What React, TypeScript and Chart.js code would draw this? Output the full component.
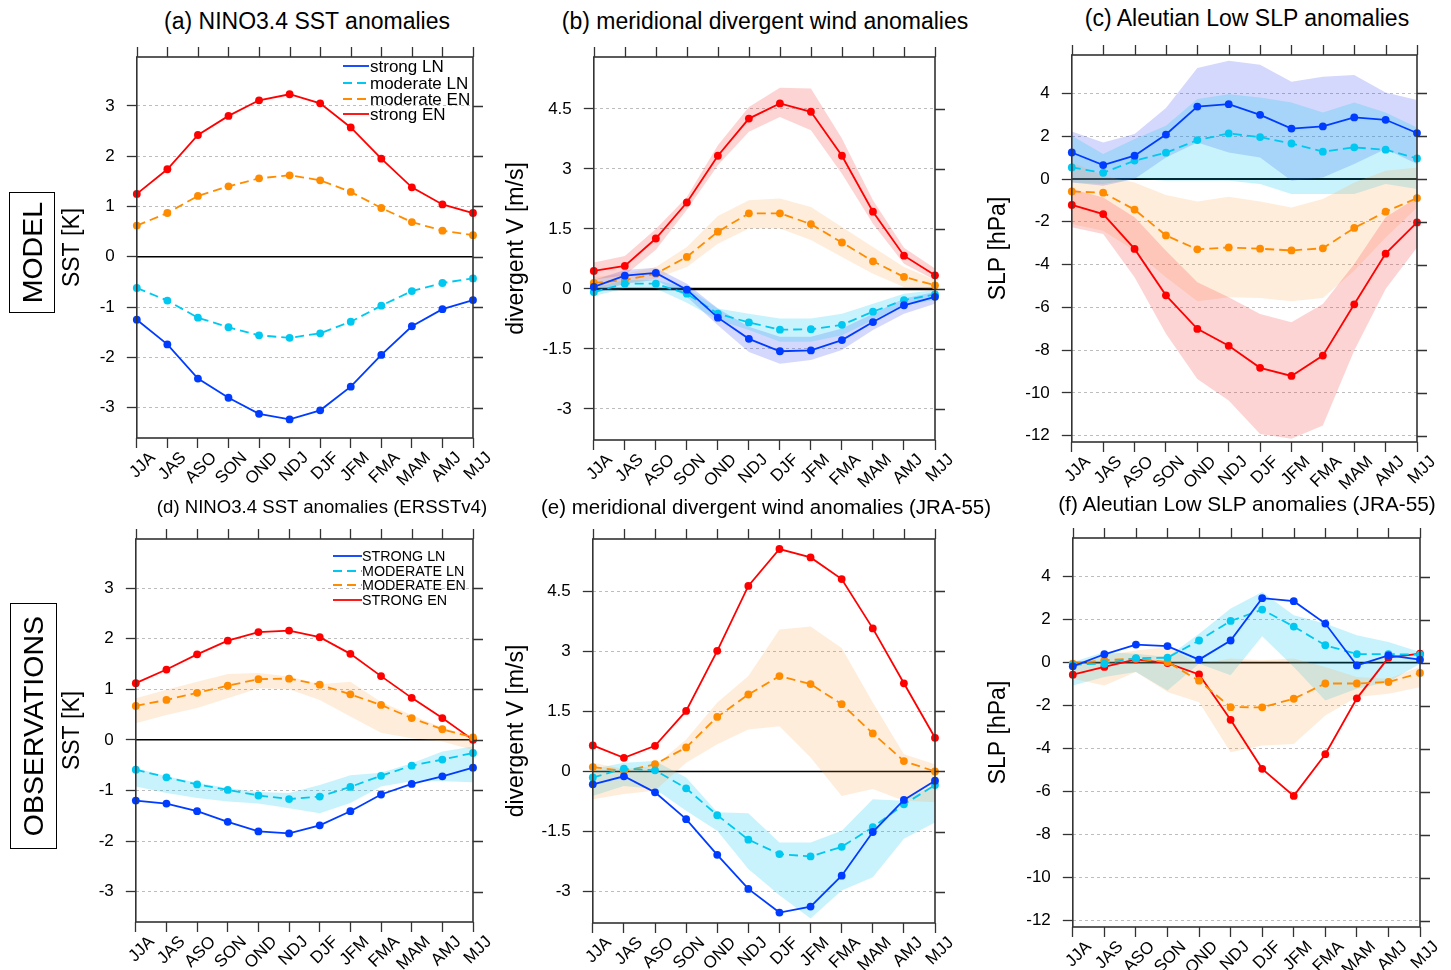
import React, { useEffect, useRef } from 'react';
import { Chart, registerables } from 'chart.js';

Chart.register(...registerables);

const FONT = "'Liberation Sans', Arial, Helvetica, sans-serif";

// ---------------- data ----------------
const SEASONS = ['JJA', 'JAS', 'ASO', 'SON', 'OND', 'NDJ', 'DJF', 'JFM', 'FMA', 'MAM', 'AMJ', 'MJJ'];
const LABELS_MODEL = ['strong LN', 'moderate LN', 'moderate EN', 'strong EN'];
const LABELS_OBS = ['STRONG LN', 'MODERATE LN', 'MODERATE EN', 'STRONG EN'];

// (a) model NINO3.4 SST [K]
const a_strongLN = [-1.25, -1.74, -2.42, -2.8, -3.12, -3.23, -3.05, -2.58, -1.95, -1.38, -1.04, -0.86];
const a_moderateLN = [-0.62, -0.87, -1.21, -1.4, -1.56, -1.61, -1.52, -1.29, -0.97, -0.68, -0.52, -0.43];
const a_moderateEN = [0.62, 0.87, 1.21, 1.4, 1.56, 1.62, 1.52, 1.29, 0.97, 0.69, 0.52, 0.43];
const a_strongEN = [1.25, 1.74, 2.42, 2.8, 3.11, 3.23, 3.05, 2.57, 1.95, 1.38, 1.04, 0.87];

// (b) model meridional divergent wind [m/s]
const b_strongLN = [0.05, 0.33, 0.4, -0.02, -0.72, -1.25, -1.56, -1.54, -1.28, -0.83, -0.41, -0.2];
const b_strongLN_hi = [0.22, 0.47, 0.53, 0.13, -0.49, -0.95, -1.2, -1.2, -0.99, -0.62, -0.24, -0.08];
const b_strongLN_lo = [-0.12, 0.13, 0.22, -0.2, -0.91, -1.58, -1.87, -1.78, -1.53, -1.03, -0.62, -0.37];
const b_moderateLN = [-0.08, 0.13, 0.13, -0.12, -0.62, -0.84, -1.02, -1.01, -0.9, -0.57, -0.28, -0.14];
const b_moderateLN_hi = [0.03, 0.22, 0.22, 0.03, -0.49, -0.62, -0.74, -0.74, -0.62, -0.37, -0.12, -0.03];
const b_moderateLN_lo = [-0.18, 0.01, 0.01, -0.35, -0.78, -1.03, -1.32, -1.32, -1.16, -0.78, -0.41, -0.28];
const b_moderateEN = [0.15, 0.22, 0.38, 0.8, 1.43, 1.89, 1.89, 1.62, 1.16, 0.69, 0.3, 0.09];
const b_moderateEN_hi = [0.3, 0.38, 0.55, 1.05, 1.82, 2.22, 2.26, 2.05, 1.55, 1.05, 0.55, 0.22];
const b_moderateEN_lo = [0.01, 0.13, 0.26, 0.55, 1.13, 1.51, 1.51, 1.22, 0.8, 0.38, 0.05, -0.01];
const b_strongEN = [0.45, 0.575, 1.26, 2.16, 3.33, 4.26, 4.64, 4.43, 3.33, 1.93, 0.83, 0.34];
const b_strongEN_hi = [0.66, 0.82, 1.5, 2.3, 3.59, 4.55, 5.03, 5.01, 3.76, 2.22, 1.03, 0.51];
const b_strongEN_lo = [0.23, 0.34, 0.98, 1.98, 3.09, 3.93, 4.3, 3.97, 2.88, 1.63, 0.63, 0.22];

// (c) model Aleutian Low SLP [hPa]
const c_strongLN = [1.24, 0.65, 1.09, 2.08, 3.39, 3.5, 3.0, 2.36, 2.46, 2.88, 2.77, 2.15];
const c_strongLN_hi = [2.22, 1.71, 2.1, 3.32, 5.19, 5.53, 5.34, 4.55, 4.78, 4.86, 4.05, 3.69];
const c_strongLN_lo = [-0.16, -0.31, 0.0, 1.01, 1.71, 1.24, 1.01, -0.08, 0.07, 0.7, 1.4, 0.7];
const c_moderateLN = [0.54, 0.29, 0.86, 1.23, 1.82, 2.13, 1.96, 1.66, 1.28, 1.48, 1.37, 0.96];
const c_moderateLN_hi = [2.02, 1.17, 1.87, 2.49, 3.74, 3.97, 3.81, 3.58, 3.11, 3.58, 3.11, 2.41];
const c_moderateLN_lo = [-0.16, -0.23, 0.0, -0.08, -0.08, -0.08, -0.23, -0.7, -0.7, -0.7, -0.23, -0.47];
const c_moderateEN = [-0.58, -0.64, -1.43, -2.64, -3.29, -3.2, -3.26, -3.34, -3.24, -2.29, -1.53, -0.89];
const c_moderateEN_hi = [0.78, 0.15, -0.16, -0.75, -1.05, -0.83, -1.05, -1.33, -0.93, -0.16, 0.39, 0.54];
const c_moderateEN_lo = [-2.1, -2.42, -3.35, -4.6, -5.72, -5.53, -5.56, -5.72, -5.56, -4.29, -2.73, -1.33];
const c_strongEN = [-1.21, -1.64, -3.27, -5.44, -7.01, -7.8, -8.83, -9.21, -8.26, -5.86, -3.49, -2.03];
const c_strongEN_hi = [-0.47, -0.86, -1.79, -3.35, -4.83, -5.53, -6.31, -6.7, -5.84, -3.97, -1.79, -0.86];
const c_strongEN_lo = [-2.26, -2.57, -4.6, -7.24, -9.35, -10.36, -11.92, -12.15, -11.53, -8.02, -5.14, -3.2];

// (d) observed NINO3.4 SST (ERSSTv4) [K]
const d_strongLN = [-1.2, -1.26, -1.41, -1.62, -1.81, -1.85, -1.69, -1.41, -1.08, -0.87, -0.72, -0.55];
const d_moderateLN = [-0.59, -0.74, -0.88, -0.99, -1.1, -1.17, -1.12, -0.93, -0.71, -0.51, -0.39, -0.26];
const d_moderateLN_hi = [-0.56, -0.72, -0.85, -0.95, -1.03, -1.05, -0.89, -0.7, -0.65, -0.46, -0.23, -0.13];
const d_moderateLN_lo = [-0.92, -1.05, -1.15, -1.22, -1.26, -1.35, -1.45, -1.25, -0.92, -0.82, -0.82, -0.84];
const d_moderateEN = [0.67, 0.79, 0.93, 1.07, 1.2, 1.21, 1.09, 0.9, 0.69, 0.43, 0.21, 0.05];
const d_moderateEN_hi = [0.82, 0.99, 1.15, 1.3, 1.32, 1.25, 1.1, 1.15, 0.75, 0.49, 0.24, 0.08];
const d_moderateEN_lo = [0.33, 0.49, 0.63, 0.82, 1.02, 1.0, 0.79, 0.46, 0.14, 0.03, -0.03, -0.2];
const d_strongEN = [1.12, 1.39, 1.69, 1.96, 2.13, 2.16, 2.03, 1.7, 1.26, 0.83, 0.43, 0.0];

// (e) observed meridional divergent wind (JRA-55) [m/s]
const e_strongLN = [-0.32, -0.12, -0.52, -1.19, -2.08, -2.93, -3.52, -3.37, -2.6, -1.51, -0.71, -0.23];
const e_moderateLN = [-0.15, 0.07, 0.03, -0.42, -1.09, -1.7, -2.06, -2.12, -1.88, -1.39, -0.82, -0.34];
const e_moderateLN_hi = [0.06, 0.22, 0.26, -0.15, -1.02, -1.04, -1.77, -1.77, -1.48, -0.69, -0.73, -0.32];
const e_moderateLN_lo = [-0.61, -0.36, -0.44, -0.98, -1.48, -2.43, -3.09, -3.67, -2.97, -2.64, -1.68, -1.27];
const e_moderateEN = [0.11, 0.01, 0.18, 0.6, 1.36, 1.92, 2.38, 2.18, 1.68, 0.95, 0.26, 0.0];
const e_moderateEN_hi = [0.22, 0.06, 0.14, 0.8, 1.72, 2.38, 3.54, 3.62, 3.08, 1.72, 0.43, 0.18];
const e_moderateEN_lo = [-0.69, -0.56, -0.48, 0.22, 0.68, 1.05, 1.13, 0.35, -0.61, -0.44, -0.73, -0.77];
const e_strongEN = [0.65, 0.34, 0.64, 1.51, 3.01, 4.63, 5.55, 5.34, 4.8, 3.57, 2.2, 0.84];

// (f) observed Aleutian Low SLP (JRA-55) [hPa]
const f_strongLN = [-0.17, 0.39, 0.84, 0.77, 0.14, 1.03, 3.0, 2.86, 1.82, -0.13, 0.34, 0.14];
const f_moderateLN = [-0.09, -0.05, 0.21, 0.23, 1.03, 1.94, 2.47, 1.68, 0.81, 0.4, 0.4, 0.37];
const f_moderateLN_hi = [0.03, 0.49, 0.42, 0.26, 1.35, 2.52, 3.29, 2.2, 1.82, 1.27, 0.96, 0.49];
const f_moderateLN_lo = [-1.06, -0.67, -0.44, -1.29, -0.05, -0.59, 1.23, -0.2, -1.76, -1.21, -0.9, -0.05];
const f_moderateEN = [-0.05, 0.11, 0.19, 0.03, -0.84, -2.07, -2.08, -1.68, -0.97, -0.97, -0.9, -0.48];
const f_moderateEN_hi = [-0.05, 0.34, 0.57, 0.73, -0.05, 0.19, 0.11, 0.19, -0.2, -0.67, -0.75, -0.2];
const f_moderateEN_lo = [-0.75, -1.06, -0.44, -1.37, -1.84, -4.17, -3.86, -3.78, -2.46, -1.6, -1.45, -1.14];
const f_strongEN = [-0.56, -0.2, 0.15, -0.02, -0.55, -2.66, -4.94, -6.2, -4.26, -1.66, 0.23, 0.42];

// axis ranges / ticks
const SST_RANGE = [-3.6, 3.97];
const SST_STEP = 1;
const WIND_RANGE = [-3.78, 5.8];
const WIND_STEP = 1.5;
const SLP_RANGE = [-12.3, 5.8];
const SLP_STEP = 2;

const TITLES = [
  { text: '(a) NINO3.4 SST anomalies', cx: 307, cy: 21, size: 23 },
  { text: '(b) meridional divergent wind anomalies', cx: 765, cy: 21, size: 23 },
  { text: '(c) Aleutian Low SLP anomalies', cx: 1247, cy: 18, size: 23 },
  { text: '(d) NINO3.4 SST anomalies (ERSSTv4)', cx: 322, cy: 507, size: 18.6 },
  { text: '(e) meridional divergent wind anomalies (JRA-55)', cx: 766, cy: 507, size: 20.5 },
  { text: '(f) Aleutian Low SLP anomalies (JRA-55)', cx: 1247, cy: 504, size: 20.8 },
];

// ---------------- styles ----------------
const C_BLUE = 'rgb(0,60,255)';
const C_CYAN = 'rgb(0,200,240)';
const C_ORANGE = 'rgb(255,140,0)';
const C_RED = 'rgb(255,0,0)';
const B_BLUE = 'rgba(40,60,240,0.2)';
const B_CYAN = 'rgba(0,200,240,0.21)';
const B_ORANGE = 'rgba(255,150,40,0.17)';
const B_RED = 'rgba(247,50,50,0.21)';
const FRAME = '#333333';
const GRID = '#bdbdbd';

type Area = { l: number; t: number; r: number; b: number };
type SeriesSpec = { label: string; data: number[]; color: string; dashed: boolean };
type BandSpec = { hi: number[]; lo: number[]; color: string };
type LegendSpec = { x0: number; x1: number; tx: number; ys: number[]; size: number };
type PanelSpec = {
  id: string;
  area: Area;
  range: number[];
  step: number;
  yTitle: string;
  titleGap: number;
  series: SeriesSpec[];
  bands: BandSpec[];
  legend?: LegendSpec;
  zeroWidth: number;
};

function fourSeries(labels: string[], sLN: number[], mLN: number[], mEN: number[], sEN: number[]): SeriesSpec[] {
  return [
    { label: labels[0], data: sLN, color: C_BLUE, dashed: false },
    { label: labels[1], data: mLN, color: C_CYAN, dashed: true },
    { label: labels[2], data: mEN, color: C_ORANGE, dashed: true },
    { label: labels[3], data: sEN, color: C_RED, dashed: false },
  ];
}

const PANELS: PanelSpec[] = [
  {
    id: 'a', area: { l: 137, t: 57, r: 473, b: 438 }, range: SST_RANGE, step: SST_STEP,
    yTitle: 'SST [K]', titleGap: 64, zeroWidth: 1.5,
    series: fourSeries(LABELS_MODEL, a_strongLN, a_moderateLN, a_moderateEN, a_strongEN),
    bands: [],
    legend: { x0: -130, x1: -104, tx: -103, ys: [9, 26, 42, 57], size: 17 },
  },
  {
    id: 'b', area: { l: 594, t: 57, r: 935, b: 440 }, range: WIND_RANGE, step: WIND_STEP,
    yTitle: 'divergent V [m/s]', titleGap: 77, zeroWidth: 2.5,
    series: fourSeries(LABELS_MODEL, b_strongLN, b_moderateLN, b_moderateEN, b_strongEN),
    bands: [
      { hi: b_strongEN_hi, lo: b_strongEN_lo, color: B_RED },
      { hi: b_moderateEN_hi, lo: b_moderateEN_lo, color: B_ORANGE },
      { hi: b_moderateLN_hi, lo: b_moderateLN_lo, color: B_CYAN },
      { hi: b_strongLN_hi, lo: b_strongLN_lo, color: B_BLUE },
    ],
  },
  {
    id: 'c', area: { l: 1072, t: 55, r: 1417, b: 442 }, range: SLP_RANGE, step: SLP_STEP,
    yTitle: 'SLP [hPa]', titleGap: 73, zeroWidth: 1.8,
    series: fourSeries(LABELS_MODEL, c_strongLN, c_moderateLN, c_moderateEN, c_strongEN),
    bands: [
      { hi: c_strongEN_hi, lo: c_strongEN_lo, color: B_RED },
      { hi: c_moderateEN_hi, lo: c_moderateEN_lo, color: B_ORANGE },
      { hi: c_moderateLN_hi, lo: c_moderateLN_lo, color: B_CYAN },
      { hi: c_strongLN_hi, lo: c_strongLN_lo, color: B_BLUE },
    ],
  },
  {
    id: 'd', area: { l: 136, t: 539, r: 473, b: 922 }, range: SST_RANGE, step: SST_STEP,
    yTitle: 'SST [K]', titleGap: 63, zeroWidth: 1.5,
    series: fourSeries(LABELS_OBS, d_strongLN, d_moderateLN, d_moderateEN, d_strongEN),
    bands: [
      { hi: d_moderateEN_hi, lo: d_moderateEN_lo, color: B_ORANGE },
      { hi: d_moderateLN_hi, lo: d_moderateLN_lo, color: B_CYAN },
    ],
    legend: { x0: -140, x1: -111, tx: -111, ys: [17, 32, 46, 61], size: 14.3 },
  },
  {
    id: 'e', area: { l: 593, t: 539, r: 935, b: 923 }, range: WIND_RANGE, step: WIND_STEP,
    yTitle: 'divergent V [m/s]', titleGap: 76, zeroWidth: 1.5,
    series: fourSeries(LABELS_OBS, e_strongLN, e_moderateLN, e_moderateEN, e_strongEN),
    bands: [
      { hi: e_moderateEN_hi, lo: e_moderateEN_lo, color: B_ORANGE },
      { hi: e_moderateLN_hi, lo: e_moderateLN_lo, color: B_CYAN },
    ],
  },
  {
    id: 'f', area: { l: 1073, t: 538, r: 1420, b: 927 }, range: SLP_RANGE, step: SLP_STEP,
    yTitle: 'SLP [hPa]', titleGap: 74, zeroWidth: 1.8,
    series: fourSeries(LABELS_OBS, f_strongLN, f_moderateLN, f_moderateEN, f_strongEN),
    bands: [
      { hi: f_moderateEN_hi, lo: f_moderateEN_lo, color: B_ORANGE },
      { hi: f_moderateLN_hi, lo: f_moderateLN_lo, color: B_CYAN },
    ],
  },
];

const PAD_L = 5;
const PAD_T = 16;
const PAD_R = 30;
const PAD_B = 5;
const XH = 58;
const TITLE_SIZE = 23;
const TICK_LEN = 10;

function makePlugin(spec: PanelSpec) {
  return {
    id: 'decor_' + spec.id,
    beforeDatasetsDraw(chart: any) {
      const { ctx, chartArea: a, scales } = chart;
      const y0 = scales.y.getPixelForValue(0);
      ctx.save();
      ctx.strokeStyle = '#000';
      ctx.lineWidth = spec.zeroWidth;
      ctx.beginPath();
      ctx.moveTo(a.left, y0);
      ctx.lineTo(a.right, y0);
      ctx.stroke();
      ctx.restore();
    },
    afterDatasetsDraw(chart: any) {
      const lg = spec.legend;
      if (!lg) return;
      const { ctx, chartArea: a } = chart;
      ctx.save();
      ctx.font = `${lg.size}px ${FONT}`;
      ctx.textBaseline = 'middle';
      ctx.textAlign = 'left';
      spec.series.forEach((s, i) => {
        const y = a.top + lg.ys[i];
        ctx.strokeStyle = s.color;
        ctx.lineWidth = 1.8;
        ctx.setLineDash(s.dashed ? [9, 5] : []);
        ctx.beginPath();
        ctx.moveTo(a.right + lg.x0, y);
        ctx.lineTo(a.right + lg.x1, y);
        ctx.stroke();
        ctx.fillStyle = '#000';
        ctx.fillText(s.label, a.right + lg.tx, y + 1);
      });
      ctx.restore();
    },
    afterDraw(chart: any) {
      const { ctx, chartArea: a, scales } = chart;
      ctx.save();
      ctx.setLineDash([]);
      ctx.strokeStyle = FRAME;
      ctx.lineWidth = 1.3;
      ctx.beginPath();
      scales.y.ticks.forEach((t: any) => {
        const p = Math.round(scales.y.getPixelForValue(t.value)) + 0.5;
        ctx.moveTo(a.right, p);
        ctx.lineTo(a.right + TICK_LEN, p);
      });
      scales.x.ticks.forEach((_t: any, i: number) => {
        const p = Math.round(scales.x.getPixelForTick(i)) + 0.5;
        ctx.moveTo(p, a.top);
        ctx.lineTo(p, a.top - TICK_LEN);
      });
      ctx.stroke();
      ctx.lineWidth = 1.6;
      ctx.strokeRect(a.left, a.top, a.right - a.left, a.bottom - a.top);
      ctx.restore();
    },
  };
}

function PanelChart({ spec }: { spec: PanelSpec }) {
  const ref = useRef<HTMLCanvasElement>(null);
  const yW = spec.titleGap + (TITLE_SIZE * 1.2) / 2;
  const left = Math.round(spec.area.l - yW - PAD_L);
  const width = Math.min(Math.round(spec.area.r + PAD_R) - left, 1451 - left);
  const height = Math.round(spec.area.b - spec.area.t + PAD_T + PAD_B + XH);
  const top = spec.area.t - PAD_T;
  const padR = width - (spec.area.r - left);

  useEffect(() => {
    const canvas = ref.current;
    if (!canvas) return;
    const datasets: any[] = [];
    spec.series.forEach((s) => {
      datasets.push({
        label: s.label,
        data: s.data,
        borderColor: s.color,
        backgroundColor: s.color,
        borderWidth: 1.8,
        borderDash: s.dashed ? [9, 5] : [],
        pointRadius: 3.9,
        pointHoverRadius: 3.9,
        pointBackgroundColor: s.color,
        pointBorderWidth: 0,
        fill: false,
        tension: 0,
        order: 0,
        clip: false,
      });
    });
    spec.bands.forEach((b) => {
      const hiIdx = datasets.length;
      datasets.push({
        label: 'band-hi',
        data: b.hi,
        borderColor: 'rgba(0,0,0,0)',
        backgroundColor: b.color,
        pointRadius: 0,
        pointHoverRadius: 0,
        fill: hiIdx + 1,
        tension: 0,
        order: 10,
      });
      datasets.push({
        label: 'band-lo',
        data: b.lo,
        borderColor: 'rgba(0,0,0,0)',
        backgroundColor: 'rgba(0,0,0,0)',
        pointRadius: 0,
        pointHoverRadius: 0,
        fill: false,
        tension: 0,
        order: 10,
      });
    });

    const chart = new Chart(canvas, {
      type: 'line',
      data: { labels: SEASONS, datasets },
      options: {
        responsive: false,
        animation: false,
        events: [],
        layout: { padding: { left: PAD_L, top: PAD_T, right: padR, bottom: PAD_B } },
        plugins: { legend: { display: false }, tooltip: { enabled: false }, title: { display: false } },
        scales: {
          x: {
            type: 'category',
            offset: false,
            grid: { display: true, drawOnChartArea: false, drawTicks: true, tickLength: TICK_LEN, tickColor: FRAME, tickWidth: 1.3 },
            border: { display: false },
            ticks: {
              autoSkip: false,
              minRotation: 45,
              maxRotation: 45,
              color: '#000',
              padding: 0,
              labelOffset: 16,
              font: { family: FONT, size: 17 },
            },
            afterFit: (s: any) => {
              s.height = XH;
              s.paddingLeft = 0;
              s.paddingRight = 0;
            },
          },
          y: {
            type: 'linear',
            min: spec.range[0],
            max: spec.range[1],
            ticks: {
              stepSize: spec.step,
              includeBounds: false,
              color: '#000',
              padding: 12,
              font: { family: FONT, size: 17 },
              callback: (v: any) => String(v),
            },
            grid: {
              color: (c: any) => (c.tick && c.tick.value === 0 ? 'rgba(0,0,0,0)' : GRID),
              lineWidth: 1,
              drawTicks: true,
              tickLength: TICK_LEN,
              tickColor: FRAME,
              tickWidth: 1.3,
            },
            border: { display: false, dash: [3, 3] },
            title: { display: true, text: spec.yTitle, color: '#000', padding: 0, font: { family: FONT, size: TITLE_SIZE } },
            afterFit: (s: any) => {
              s.width = yW;
              s.paddingTop = 0;
              s.paddingBottom = 0;
            },
          },
        },
      },
      plugins: [makePlugin(spec)],
    } as any);
    return () => chart.destroy();
  }, []);

  return (
    <canvas
      ref={ref}
      width={width}
      height={height}
      style={{ position: 'absolute', left, top, width, height }}
    />
  );
}

function SideLabel({ text, l, t, w, h }: { text: string; l: number; t: number; w: number; h: number }) {
  return (
    <div
      style={{
        position: 'absolute', left: l, top: t, width: w, height: h, boxSizing: 'border-box',
        border: '1.5px solid #000', display: 'flex', alignItems: 'center', justifyContent: 'center',
      }}
    >
      <span style={{ writingMode: 'vertical-rl', transform: 'rotate(180deg)', fontSize: 28.5, fontFamily: FONT, lineHeight: 1, color: '#000', whiteSpace: 'nowrap' }}>
        {text}
      </span>
    </div>
  );
}

export default function App() {
  return (
    <div style={{ position: 'fixed', left: 0, top: 0, width: 1451, height: 970, background: '#fff', overflow: 'hidden', fontFamily: FONT }}>
      {PANELS.map((p) => (
        <PanelChart key={p.id} spec={p} />
      ))}
      {TITLES.map((t) => (
        <div
          key={t.text}
          style={{
            position: 'absolute', left: t.cx, top: t.cy, transform: 'translate(-50%, -50%)',
            fontSize: t.size, lineHeight: 1, whiteSpace: 'nowrap', color: '#000', fontFamily: FONT,
          }}
        >
          {t.text}
        </div>
      ))}
      <SideLabel text="MODEL" l={9} t={192} w={46} h={121} />
      <SideLabel text="OBSERVATIONS" l={10} t={603} w={47} h={246} />
    </div>
  );
}
